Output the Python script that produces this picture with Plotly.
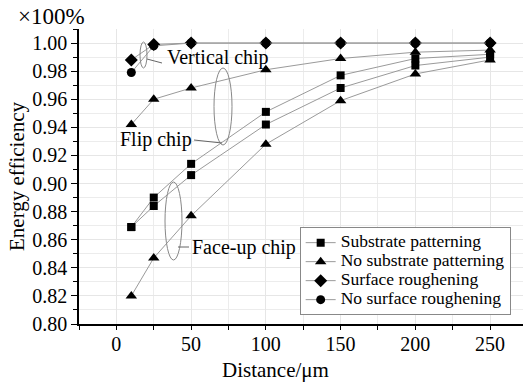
import plotly.graph_objects as go

# ---- data ----
distance = [10, 25, 50, 100, 150, 200, 250]

flip_substrate = [0.869, 0.890, 0.914, 0.951, 0.977, 0.989, 0.992]
faceup_substrate = [0.869, 0.884, 0.906, 0.942, 0.968, 0.984, 0.990]
flip_no_substrate = [0.942, 0.960, 0.968, 0.981, 0.989, 0.9935, 0.995]
faceup_no_substrate = [0.820, 0.847, 0.877, 0.928, 0.959, 0.978, 0.988]
surface_rough = [0.988, 0.999, 1.000, 1.000, 1.000, 1.000, 1.000]
no_surface_rough = [0.979, 0.998, 1.000, 1.000, 1.000, 1.000, 1.000]

legend_names = ["Substrate patterning", "No substrate patterning",
                "Surface roughening", "No surface roughening"]

FONT = "Liberation Serif"
LINE_C = "#9a9a9a"

fig = go.Figure()

def add(y, name, symbol, size, show, group):
    fig.add_trace(go.Scatter(
        x=distance, y=y, mode="lines+markers",
        name='<span style="font-size:17.5px">' + name + '</span>',
        legendgroup=group, showlegend=show,
        line=dict(color=LINE_C, width=1),
        marker=dict(symbol=symbol, size=size, color="black"),
    ))

add(flip_substrate, legend_names[0], "square", 8, True, "sq")
add(flip_no_substrate, legend_names[1], "triangle-up", 10, True, "tri")
add(surface_rough, legend_names[2], "diamond", 10, True, "dia")
add(no_surface_rough, legend_names[3], "circle", 9, True, "cir")
add(faceup_substrate, legend_names[0], "square", 8, False, "sq")
add(faceup_no_substrate, legend_names[1], "triangle-up", 10, False, "tri")

xr = [-25, 272]
yr = [0.80, 1.01]

fig.update_layout(
    width=527, height=385,
    margin=dict(l=79, r=4, t=29, b=61),
    paper_bgcolor="white", plot_bgcolor="white",
    font=dict(family=FONT, color="black", size=20),
    showlegend=True,
    legend=dict(
        x=0.497, y=0.03, xanchor="left", yanchor="bottom",
        bgcolor="white", bordercolor="#888888", borderwidth=1,
        font=dict(family=FONT, size=12, color="black"),
        tracegroupgap=0,
    ),
    xaxis=dict(
        range=xr, tickmode="linear", tick0=0, dtick=50,
        showgrid=True, gridcolor="#e6e6e6", gridwidth=1,
        minor=dict(dtick=25, tick0=0, showgrid=True, gridcolor="#ececec",
                   ticks="outside", ticklen=4, tickcolor="black"),
        ticks="outside", ticklen=4, tickcolor="black",
        ticklabelstandoff=-3,
        showline=True, linecolor="black", linewidth=1.5,
        zeroline=False,
        tickfont=dict(family=FONT, size=20),
    ),
    yaxis=dict(
        range=yr, tickmode="linear", tick0=0.80, dtick=0.02, tickformat=".2f",
        showgrid=True, gridcolor="#e6e6e6", gridwidth=1,
        minor=dict(dtick=0.01, tick0=0.80, showgrid=True, gridcolor="#ececec",
                   ticks="outside", ticklen=4, tickcolor="black"),
        ticks="outside", ticklen=6, tickcolor="black",
        showline=True, linecolor="black", linewidth=1.5,
        zeroline=False,
        tickfont=dict(family=FONT, size=20),
    ),
    xaxis2=dict(range=xr, overlaying="x", side="top", anchor="y2",
                tickmode="linear", tick0=0, dtick=25, ticks="inside", ticklen=4,
                tickcolor="#999999", showticklabels=False, showgrid=False,
                showline=True, linecolor="#aaaaaa", linewidth=1.5, zeroline=False),
    yaxis2=dict(range=yr, overlaying="y", side="right", anchor="x2",
                tickmode="linear", tick0=0.80, dtick=0.01, ticks="inside", ticklen=4,
                tickcolor="#999999", showticklabels=False, showgrid=False,
                showline=True, linecolor="#aaaaaa", linewidth=1.5, zeroline=False),
)

# pixel -> data / paper helpers for annotation placement
L, R, T, B = 79, 523, 29, 324
def dx(px):
    return xr[0] + (px - L) / (R - L) * (xr[1] - xr[0])
def dy(py):
    return yr[1] - (py - T) / (B - T) * (yr[1] - yr[0])
def px_(px):
    return (px - L) / (R - L)
def py_(py):
    return (B - py) / (B - T)

fig.add_annotation(text="×100%", xref="paper", yref="paper",
                   x=px_(16), y=py_(17), xanchor="left", yanchor="middle",
                   showarrow=False, font=dict(family=FONT, size=23))

# axis titles
fig.add_annotation(text="Distance/μm", xref="paper", yref="paper",
                   x=px_(275), y=py_(370), xanchor="center", yanchor="middle",
                   showarrow=False, font=dict(family=FONT, size=21))
fig.add_annotation(text="Energy efficiency", xref="paper", yref="paper",
                   x=px_(17), y=py_(176), xanchor="center", yanchor="middle",
                   textangle=-90, showarrow=False, font=dict(family=FONT, size=21))

labels = [("Vertical chip", 165, 57), ("Flip chip", 118, 139), ("Face-up chip", 190, 247)]
for txt, px, py in labels:
    fig.add_annotation(text=txt, x=dx(px), y=dy(py), xanchor="left", yanchor="middle",
                       showarrow=False, font=dict(family=FONT, size=20))

ellipses = [(140, 147, 42, 68), (214, 232, 68, 145), (165, 182, 182, 260)]
for x0, x1, y0, y1 in ellipses:
    fig.add_shape(type="circle", x0=dx(x0), x1=dx(x1), y0=dy(y0), y1=dy(y1),
                  line=dict(color="#888888", width=1))

leaders = [(147, 59, 162, 63), (194, 140, 222, 143), (178, 247, 189, 247)]
for x0, y0, x1, y1 in leaders:
    fig.add_shape(type="line", x0=dx(x0), y0=dy(y0), x1=dx(x1), y1=dy(y1),
                  line=dict(color="#666666", width=1))

fig.write_html("out.html")
